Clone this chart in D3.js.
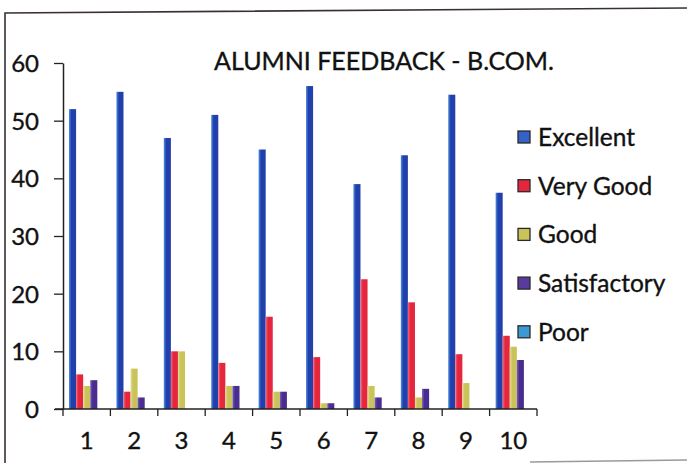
<!DOCTYPE html>
<html>
<head>
<meta charset="utf-8">
<script src="https://cdn.jsdelivr.net/npm/d3@7"></script>
<style>
  html, body { margin: 0; padding: 0; background: #fff; }
  svg { display: block; }
  text { font-family: Lato, "Open Sans", sans-serif; fill: #111; stroke: #111; stroke-width: 0.35px; }
</style>
</head>
<body>
<svg id="chart" width="687" height="463"></svg>
<script>
// Alumni feedback per question (percent of responses)
const categories = ["1", "2", "3", "4", "5", "6", "7", "8", "9", "10"];
const seriesNames = ["Excellent", "Very Good", "Good", "Satisfactory", "Poor"];
const excellent    = [52, 55, 47, 51, 45, 56, 39, 44, 54.5, 37.5];
const veryGood     = [6, 3, 10, 8, 16, 9, 22.5, 18.5, 9.5, 12.7];
const good         = [4, 7, 10, 4, 3, 1, 4, 2, 4.5, 10.8];
const satisfactory = [5, 2, 0, 4, 3, 1, 2, 3.5, 0, 8.5];
const poor         = [0, 0, 0, 0, 0, 0, 0, 0, 0, 0];
const yTicks = [0, 10, 20, 30, 40, 50, 60];
const title = "ALUMNI FEEDBACK - B.COM.";

const seriesValues = [excellent, veryGood, good, satisfactory, poor];
const colors = ["#2140ab", "#e5263d", "#c9c35a", "#4a2e8f", "#3b9ad6"];
const lights = ["#4f8fe0", "#f26a78", "#e2de96", "#7a63b8", "#7cc6ef"];
const swatches = ["#3562c8", "#e5263d", "#c9c35a", "#5a3a9f", "#3b9ad6"];

const svg = d3.select("#chart");

// page frame
svg.append("path")
  .attr("d", "M5,463 L5,13 L687,8")
  .attr("fill", "none").attr("stroke", "#3a3034").attr("stroke-width", 1.6);
svg.append("line")
  .attr("x1", 530).attr("x2", 687).attr("y1", 462).attr("y2", 460)
  .attr("stroke", "#9a9a9a").attr("stroke-width", 1.5);

const x0 = d3.scaleBand().domain(categories).range([63, 537]).padding(0);
const x1 = d3.scaleBand().domain(seriesNames).range([0, x0.bandwidth()])
  .paddingInner(0).paddingOuter(0.85);
const y = d3.scaleLinear().domain([0, 60]).range([409, 63]);

// horizontal gradients giving each bar a lighter left edge
const defs = svg.append("defs");
seriesNames.forEach((s, i) => {
  const g = defs.append("linearGradient").attr("id", "grad" + i)
    .attr("x1", "0").attr("x2", "1").attr("y1", "0").attr("y2", "0");
  g.append("stop").attr("offset", "0%").attr("stop-color", lights[i]);
  g.append("stop").attr("offset", "35%").attr("stop-color", colors[i]);
  g.append("stop").attr("offset", "100%").attr("stop-color", colors[i]);
});

// bars
const groups = svg.append("g").selectAll("g")
  .data(categories).join("g")
  .attr("transform", d => `translate(${x0(d)},0)`);
groups.selectAll("rect")
  .data((c, ci) => seriesNames.map((s, si) => ({ s, si, v: seriesValues[si][ci] })))
  .join("rect")
  .attr("x", d => x1(d.s))
  .attr("width", x1.bandwidth())
  .attr("y", d => y(d.v))
  .attr("height", d => y(0) - y(d.v))
  .attr("fill", d => `url(#grad${d.si})`);

// y axis
const yAxis = svg.append("g").attr("transform", "translate(63,0)")
  .call(d3.axisLeft(y).tickValues(yTicks).tickSize(9).tickSizeOuter(0));
yAxis.select(".domain").attr("stroke", "#222").attr("stroke-width", 1.5);
yAxis.selectAll(".tick line").attr("stroke", "#222").attr("stroke-width", 1.3);
yAxis.selectAll(".tick text").attr("font-size", 24).attr("dy", "0.36em")
  .attr("x", -24).style("font-family", "Lato, sans-serif");

// x axis with tick marks at category boundaries
const xAxis = svg.append("g").attr("transform", "translate(0,409)")
  .call(d3.axisBottom(x0).tickSize(0).tickPadding(23));
xAxis.select(".domain").attr("stroke", "#222").attr("stroke-width", 1.5)
  .attr("d", `M${x0.range()[0] - 8},0H${x0.range()[1]}`);
xAxis.selectAll(".tick text").attr("font-size", 24).style("font-family", "Lato, sans-serif");
const bounds = categories.map(c => x0(c)).concat([x0.range()[1]]);
xAxis.selectAll("line.bound").data(bounds).join("line")
  .attr("class", "bound")
  .attr("x1", d => d).attr("x2", d => d)
  .attr("y1", 0).attr("y2", 7)
  .attr("stroke", "#222").attr("stroke-width", 1.3);

// title
svg.append("text")
  .attr("x", 384).attr("y", 70)
  .attr("text-anchor", "middle")
  .attr("font-size", 25)
  .text(title);

// legend
const legend = svg.append("g").selectAll("g")
  .data(seriesNames).join("g")
  .attr("transform", (d, i) => `translate(518,${137 + i * 48.7})`);
legend.append("rect")
  .attr("x", 0).attr("y", -6).attr("width", 12).attr("height", 12)
  .attr("fill", (d, i) => swatches[i])
  .attr("stroke", "#2a2a2a").attr("stroke-width", 1.3);
legend.append("text")
  .attr("x", 20).attr("y", 0).attr("dy", "0.36em")
  .attr("font-size", 24.5)
  .text(d => d);
</script>
</body>
</html>
